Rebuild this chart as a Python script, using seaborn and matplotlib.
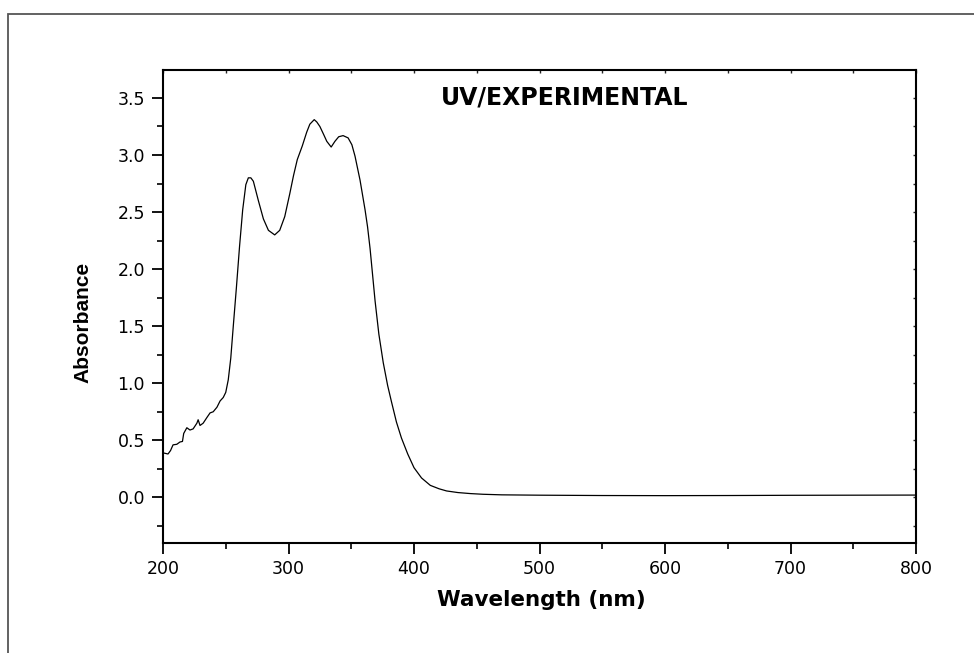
import matplotlib
matplotlib.use("Agg")
import matplotlib.pyplot as plt
from matplotlib.patches import Rectangle
from matplotlib.ticker import MultipleLocator
import seaborn as sns
import pandas as pd

# ---- data ----
wavelength = [200, 204, 206, 208, 211, 213.5, 215.5, 216.5, 219, 221.5,
              224, 227, 228, 229.5, 232, 235, 237.5, 240, 243, 245.5,
              248, 250, 252, 254, 256, 258.5, 261, 263.5, 266, 268,
              270, 272, 276, 280, 284, 289, 293, 297, 301, 304,
              307, 309, 311, 314.5, 317, 320.5, 322.5, 325, 328, 330.5,
              334, 337, 340, 343.5, 347.5, 350.5, 353, 357, 361, 363,
              365, 367, 369, 372, 375.5, 379, 382, 386, 390, 395,
              400, 406, 413, 420, 426, 435, 445, 455, 470, 500,
              550, 600, 650, 700, 750, 800]
absorbance = [0.39, 0.38, 0.41, 0.46, 0.465, 0.485, 0.49, 0.56, 0.61, 0.59,
              0.60, 0.65, 0.68, 0.63, 0.65, 0.70, 0.74, 0.75, 0.79, 0.845,
              0.875, 0.92, 1.03, 1.22, 1.50, 1.84, 2.20, 2.52, 2.74, 2.80,
              2.80, 2.77, 2.60, 2.44, 2.34, 2.30, 2.34, 2.46, 2.66, 2.82,
              2.96, 3.02, 3.08, 3.20, 3.27, 3.31, 3.29, 3.25, 3.18, 3.12,
              3.07, 3.12, 3.16, 3.17, 3.15, 3.09, 2.99, 2.78, 2.52, 2.37,
              2.18, 1.95, 1.72, 1.43, 1.18, 0.98, 0.84, 0.66, 0.52, 0.38,
              0.26, 0.17, 0.105, 0.075, 0.056, 0.042, 0.033, 0.027, 0.022, 0.019,
              0.016, 0.015, 0.016, 0.018, 0.019, 0.02]

x_ticks = [200, 300, 400, 500, 600, 700, 800]
y_ticks = [0.0, 0.5, 1.0, 1.5, 2.0, 2.5, 3.0, 3.5]
title_text = "UV/EXPERIMENTAL"
x_label = "Wavelength (nm)"
y_label = "Absorbance"

df = pd.DataFrame({"Wavelength": wavelength, "Absorbance": absorbance})

sns.set_style("ticks")
plt.rcParams["font.family"] = ["DejaVu Sans"]
plt.rcParams["text.color"] = "black"
plt.rcParams["axes.labelcolor"] = "black"

fig = plt.figure(figsize=(9.74, 6.53), dpi=100)
ax = fig.add_axes([163 / 974, 1 - 543 / 653, (916 - 163) / 974, (543 - 70) / 653])

sns.lineplot(data=df, x="Wavelength", y="Absorbance", color="black",
             linewidth=0.9, ax=ax, sort=False)

ax.set_xlim(200, 800)
ax.set_ylim(-0.40, 3.745)
ax.set_xticks(x_ticks)
ax.set_xticklabels([str(v) for v in x_ticks])
ax.set_yticks(y_ticks)
ax.set_yticklabels([f"{v:.1f}" for v in y_ticks])
ax.xaxis.set_minor_locator(MultipleLocator(50))
ax.yaxis.set_minor_locator(MultipleLocator(0.25))

for s in ax.spines.values():
    s.set_visible(True)
    s.set_linewidth(1.5)
    s.set_color("black")

ax.tick_params(which="major", direction="out", length=8, width=1.3,
               labelsize=12.5, colors="black", labelcolor="black", pad=5)
ax.tick_params(which="minor", direction="out", length=4, width=1.2, colors="black")
ax.tick_params(axis="x", which="major", pad=4)

# small inward ticks on top and right
secx = ax.secondary_xaxis("top")
secx.set_xticks(x_ticks)
secx.xaxis.set_minor_locator(MultipleLocator(50))
secx.tick_params(which="both", direction="in", length=2, width=1, labeltop=False)
secx.spines["top"].set_visible(False)
secy = ax.secondary_yaxis("right")
secy.set_yticks(y_ticks)
secy.yaxis.set_minor_locator(MultipleLocator(0.25))
secy.tick_params(which="both", direction="in", length=2, width=1, labelright=False)
secy.spines["right"].set_visible(False)

ax.set_xlabel(x_label, fontsize=15.5, fontweight="bold", color="black")
ax.set_ylabel(y_label, fontsize=15, fontweight="bold", color="black",
              family=["Liberation Sans", "DejaVu Sans"])
ax.yaxis.set_label_coords(-0.094, 0.466)
ax.xaxis.set_label_coords(0.503, -0.10)

ax.text(0.534, 0.941, title_text, transform=ax.transAxes, ha="center", va="center",
        fontsize=17, fontweight="bold", color="black")

# outer frame of the figure
fig.add_artist(Rectangle((8 / 974, -0.1), 2, 1 - 14 / 653 + 0.1,
                         transform=fig.transFigure, fill=False,
                         edgecolor="#555555", linewidth=1.3))

fig.savefig("out.png", dpi=100, facecolor="white")
